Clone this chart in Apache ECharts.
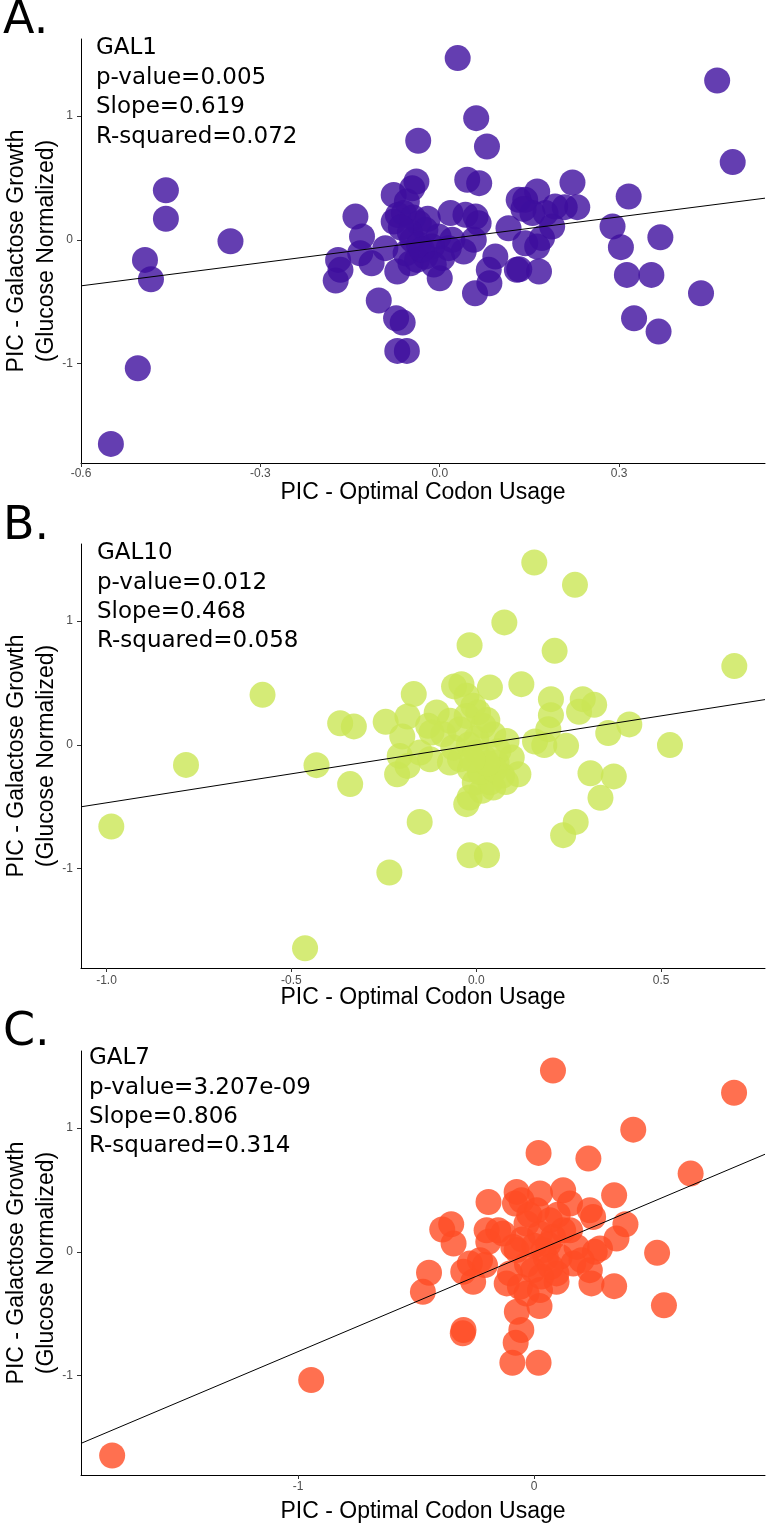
<!DOCTYPE html>
<html><head><meta charset="utf-8">
<script src="https://cdn.jsdelivr.net/npm/echarts@6/dist/echarts.min.js"></script>
<style>html,body{margin:0;padding:0;background:#fff}#c{width:766px;height:1529px}</style>
</head><body><div id="c"></div>
<script>
// ---- Panel A: GAL1 ----
const gal1X = [0.030,0.464,0.061,-0.036,0.079,0.490,-0.458,-0.458,-0.350,-0.493,-0.483,-0.505,-0.550,0.222,0.316,0.230,0.209,0.289,0.369,0.303,0.313,0.354,0.437,0.325,0.366,-0.102,-0.073,-0.062,-0.071,-0.055,0.059,0.083,0.166,0.133,0.000,-0.174,-0.141,-0.039,0.046,0.066,-0.077,-0.046,-0.055,-0.077,-0.060,-0.035,-0.024,0.018,0.043,0.060,0.065,0.057,0.040,-0.002,0.004,-0.038,-0.024,-0.049,-0.071,-0.091,-0.114,-0.130,-0.133,-0.170,-0.166,0.115,0.132,0.143,0.163,0.155,0.177,0.143,0.163,0.171,0.093,0.082,0.129,0.021,0.015,-0.046,-0.035,-0.057,-0.013,0.188,0.193,-0.070,-0.045,-0.020,-0.050,-0.030,-0.010,0.140,-0.065];
const gal1Y = [1.468,1.287,0.983,0.800,0.754,0.628,0.401,0.170,-0.011,-0.162,-0.318,-1.037,-1.648,0.463,0.350,0.264,0.264,0.108,0.021,-0.059,-0.283,-0.283,-0.431,-0.633,-0.741,-0.490,-0.633,-0.668,-0.897,-0.897,-0.431,-0.350,-0.256,-0.237,-0.310,-0.329,0.188,0.471,0.485,0.458,0.363,0.417,0.309,0.148,0.216,0.135,0.081,0.216,0.202,0.188,0.135,0.000,-0.094,0.027,-0.148,-0.162,-0.135,-0.189,-0.256,-0.067,-0.189,0.027,-0.108,-0.162,-0.242,0.094,0.323,0.323,0.390,0.216,0.216,-0.027,-0.054,0.014,-0.135,-0.242,-0.242,0.000,-0.067,0.000,-0.040,-0.108,-0.054,0.108,0.269,0.200,0.180,0.170,0.060,-0.080,-0.200,0.250,0.100];
// ---- Panel B: GAL10 ----
const gal10X = [0.157,0.267,0.076,-0.018,0.212,0.698,-0.578,-0.785,-0.987,-0.463,-0.235,-0.018,0.029,-0.153,0.235,0.269,0.336,0.309,0.372,0.524,0.414,0.357,0.319,0.288,0.278,0.202,0.202,0.122,0.037,-0.169,-0.432,-0.341,-0.368,-0.331,-0.245,-0.186,-0.200,-0.214,-0.186,0.243,0.114,0.159,0.184,-0.027,-0.018,-0.060,-0.040,0.195,-0.125,-0.152,-0.107,-0.130,-0.071,-0.121,-0.089,-0.044,-0.026,-0.008,0.005,-0.026,0.019,0.046,0.082,0.096,0.055,0.037,-0.004,0.015,0.046,-0.017,-0.044,-0.071,0.001,-0.062,-0.207,0.000,0.020,-0.020,0.030,0.060,0.010,0.070,0.050,0.030,0.080,-0.010];
const gal10Y = [1.473,1.292,0.989,0.805,0.759,0.636,0.404,-0.162,-0.659,-1.642,-1.031,-0.891,-0.891,-0.622,-0.729,-0.622,-0.428,-0.229,-0.255,-0.002,0.165,0.095,0.323,0.369,0.267,0.369,0.240,0.490,0.464,0.410,-0.164,-0.317,0.175,0.149,0.186,0.229,0.068,-0.237,-0.170,-0.008,-0.237,0.027,-0.002,-0.479,-0.425,0.472,0.490,0.127,-0.116,-0.062,0.262,0.154,0.194,0.100,0.086,0.127,0.396,0.315,0.262,0.234,0.154,0.086,0.032,-0.102,-0.142,-0.304,-0.304,-0.371,-0.344,-0.196,-0.116,-0.142,-0.062,-0.021,-0.089,0.050,-0.100,0.000,0.200,-0.050,-0.220,-0.250,-0.200,-0.150,-0.300,-0.120];
// ---- Panel C: GAL7 ----
const gal7X = [0.080,0.847,0.420,0.019,0.230,0.663,0.339,-0.193,-0.351,-0.389,-0.341,0.387,0.349,0.521,0.550,0.339,0.243,-0.445,-0.471,-0.299,-0.302,-0.944,-1.787,-0.092,0.019,-0.078,-0.054,-0.073,0.023,-0.074,0.025,0.123,-0.081,-0.053,0.011,0.152,0.236,0.250,0.279,0.257,0.236,0.166,0.109,0.095,-0.201,-0.152,-0.194,-0.131,-0.229,-0.272,-0.300,-0.258,-0.208,-0.074,-0.102,-0.116,-0.060,-0.032,0.025,-0.004,0.039,0.081,0.123,0.025,-0.032,0.067,0.152,0.180,0.095,0.201,-0.088,0.000,0.050,-0.030,0.060,0.100,-0.050,0.030,0.070,-0.020];
const gal7Y = [1.465,1.285,0.987,0.799,0.753,0.632,0.457,0.403,0.223,0.181,0.068,0.223,0.108,-0.008,-0.432,-0.277,-0.255,-0.169,-0.323,-0.631,-0.658,-1.035,-1.645,-0.895,-0.895,-0.734,-0.631,-0.484,-0.438,0.484,0.471,0.498,0.390,0.417,0.336,0.390,0.336,0.282,0.027,0.000,-0.148,-0.094,-0.040,-0.242,0.175,0.175,0.081,0.148,-0.067,-0.094,-0.161,-0.242,-0.107,0.014,-0.174,-0.255,-0.282,-0.336,-0.309,-0.148,0.014,0.121,0.175,0.148,0.229,0.256,0.175,0.040,-0.174,-0.067,0.040,0.050,-0.050,-0.100,0.060,0.300,0.100,-0.200,-0.120,0.300];

const panelLetters = ['A.', 'B.', 'C.'];
const geneNames = ['GAL1', 'GAL10', 'GAL7'];
const pValues = ['0.005', '0.012', '3.207e-09'];
const slopes = [0.619, 0.468, 0.806];
const rSquared = ['0.072', '0.058', '0.314'];
const xTickValues = [[-0.6, -0.3, 0, 0.3], [-1.0, -0.5, 0, 0.5], [-1, 0]];
const xTickDecimals = [1, 1, 0];
const yTickValues = [-1, 0, 1];
const xRanges = [[-0.6, 0.544], [-1.069, 0.781], [-1.919, 0.978]];
const yRange = [-1.802, 1.622];
const colors = ['#3D0E9E', '#CBE655', '#FF4C24'];
const xTitle = 'PIC - Optimal Codon Usage';
const yTitle1 = 'PIC - Galactose Growth';
const yTitle2 = '(Glucose Normalized)';

const xs = [gal1X, gal10X, gal7X];
const ys = [gal1Y, gal10Y, gal7Y];

// layout
const gridTops = [39, 544, 1051];
const gridH = 424;
const gridL = 81, gridW = 684;
const labelMargins = [5, 7, 6];
const xTitleY = [493, 998, 1512];
const textX = [96, 97, 89];
const textFirstY = [48.5, 553.3, 1058.3];
const letterY = [21.5, 527, 1033];

const grids = [], xAxes = [], yAxes = [], series = [], graphics = [];
const tickFont = 'Liberation Sans, Arial, sans-serif';

for (let i = 0; i < 3; i++) {
  grids.push({ left: gridL, top: gridTops[i], width: gridW, height: gridH });
  const dec = xTickDecimals[i];
  xAxes.push({
    gridIndex: i, type: 'value', min: xRanges[i][0], max: xRanges[i][1],
    axisLine: { show: true, onZero: false, lineStyle: { color: '#000', width: 1 } },
    axisTick: { show: true, length: 4, customValues: xTickValues[i], lineStyle: { color: '#333' } },
    axisLabel: { customValues: xTickValues[i], formatter: v => (+v).toFixed(dec), color: '#4d4d4d', fontSize: 12, fontFamily: tickFont, margin: labelMargins[i] },
    splitLine: { show: false }
  });
  yAxes.push({
    gridIndex: i, type: 'value', min: yRange[0], max: yRange[1],
    axisLine: { show: true, onZero: false, lineStyle: { color: '#000', width: 1 } },
    axisTick: { show: true, length: 4, customValues: yTickValues, lineStyle: { color: '#333' } },
    axisLabel: { customValues: yTickValues, formatter: v => String(Math.round(v)), color: '#4d4d4d', fontSize: 12, fontFamily: tickFont, margin: 8 },
    splitLine: { show: false }
  });
  series.push({
    type: 'scatter', xAxisIndex: i, yAxisIndex: i,
    data: xs[i].map((x, k) => [x, ys[i][k]]),
    symbolSize: 26,
    itemStyle: { color: colors[i], opacity: 0.8 },
    emphasis: { disabled: true }, silent: true, z: 2
  });
  const [x0, x1] = xRanges[i];
  series.push({
    type: 'line', xAxisIndex: i, yAxisIndex: i,
    data: [[x0, slopes[i] * x0], [x1, slopes[i] * x1]],
    symbol: 'none', lineStyle: { color: '#000', width: 1 },
    silent: true, z: 5
  });

  const lines = [geneNames[i], 'p-value=' + pValues[i], 'Slope=' + slopes[i].toFixed(3), 'R-squared=' + rSquared[i]];
  lines.forEach((t, k) => {
    graphics.push({ type: 'text', x: textX[i], y: textFirstY[i] + k * 29.4, z: 10,
      style: { text: t, fill: '#000', fontSize: 23, fontFamily: 'DejaVu Sans', align: 'left', verticalAlign: 'middle' } });
  });
  graphics.push({ type: 'text', x: 3, y: letterY[i], z: 10,
    style: { text: panelLetters[i], fill: '#000', fontSize: 46, fontFamily: 'DejaVu Sans', align: 'left', verticalAlign: 'middle' } });
  const cy = gridTops[i] + gridH / 2;
  graphics.push({ type: 'text', x: 16.5, y: cy, rotation: Math.PI / 2, z: 10,
    style: { text: yTitle1, fill: '#000', fontSize: 23, fontFamily: tickFont, align: 'center', verticalAlign: 'middle' } });
  graphics.push({ type: 'text', x: 46.5, y: cy, rotation: Math.PI / 2, z: 10,
    style: { text: yTitle2, fill: '#000', fontSize: 23, fontFamily: tickFont, align: 'center', verticalAlign: 'middle' } });
  graphics.push({ type: 'text', x: gridL + gridW / 2, y: xTitleY[i], z: 10,
    style: { text: xTitle, fill: '#000', fontSize: 23, fontFamily: tickFont, align: 'center', verticalAlign: 'middle' } });
}

const chart = echarts.init(document.getElementById('c'), null, { renderer: 'canvas' });
chart.setOption({
  animation: false,
  backgroundColor: '#fff',
  grid: grids, xAxis: xAxes, yAxis: yAxes, series: series, graphic: graphics
});
</script></body></html>
